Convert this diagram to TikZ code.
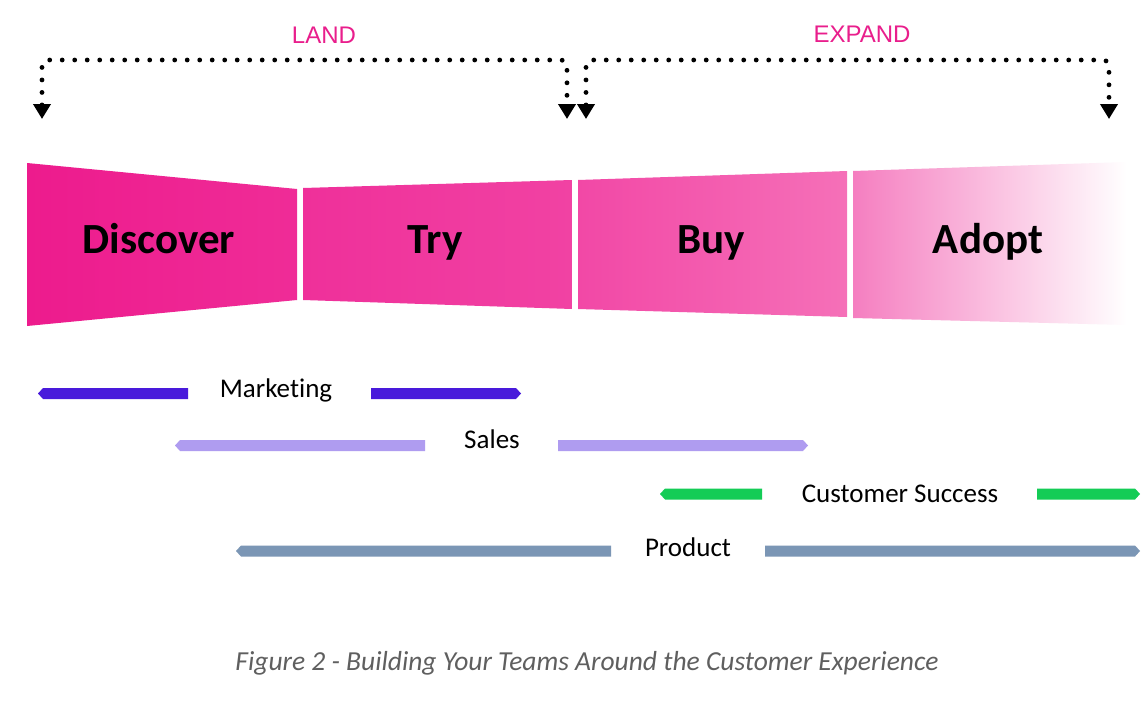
\documentclass[tikz,border=0pt]{standalone}
\usepackage{fontspec}
\setmainfont{Carlito}[Ligatures=NoCommon]
\newfontfamily\arialf{Liberation Sans}
\usetikzlibrary{arrows.meta}
\definecolor{pinkA}{RGB}{237,27,141}
\definecolor{pinkB}{RGB}{239,44,151}
\definecolor{pinkC}{RGB}{239,48,154}
\definecolor{pinkD}{RGB}{241,66,163}
\definecolor{pinkE}{RGB}{242,72,166}
\definecolor{pinkF}{RGB}{245,112,184}
\definecolor{pinkG}{RGB}{245,126,192}
\definecolor{landpink}{RGB}{233,30,140}
\definecolor{mktc}{RGB}{73,26,219}
\definecolor{salesc}{RGB}{175,156,240}
\definecolor{csc}{RGB}{20,204,86}
\definecolor{prodc}{RGB}{123,150,181}
\definecolor{capc}{RGB}{95,95,95}
\tikzset{
  dotline/.style={line width=4.8pt, line cap=round, dash pattern=on 0pt off 12.5pt,
    rounded corners=6pt, {Triangle[length=15pt,width=17pt]}-{Triangle[length=15pt,width=17pt]}},
  stagelbl/.style={anchor=base, font=\bfseries\fontsize{43}{50}\selectfont, text=black, inner sep=0pt},
  teamlbl/.style={anchor=base, font=\fontsize{27}{32}\selectfont, text=black, inner sep=0pt},
  phaselbl/.style={anchor=base, font=\arialf\fontsize{24}{28}\selectfont, text=landpink, inner sep=0pt},
  caplbl/.style={anchor=base, font=\itshape\fontsize{27.5}{32}\selectfont, text=capc, inner sep=0pt},
}
% bar segments: \lbarseg pointed at left, \rbarseg pointed at right
\newcommand{\lbarseg}[4]{\fill[#4] (#1,#3) -- (#1+5,#3-5.5) -- (#2,#3-5.5) -- (#2,#3+5.5) -- (#1+5,#3+5.5) -- cycle;}
\newcommand{\rbarseg}[4]{\fill[#4] (#1,#3-5.5) -- (#2-5,#3-5.5) -- (#2,#3) -- (#2-5,#3+5.5) -- (#1,#3+5.5) -- cycle;}
\begin{document}
\begin{tikzpicture}[x=1pt,y=-1pt]
\useasboundingbox (0,0) rectangle (1147,720);
\fill[white] (0,0) rectangle (1147,720);

% funnel stages
\shade[left color=pinkA, right color=pinkB] (27,163) -- (297,189) -- (297,300) -- (27,326) -- cycle;
\shade[left color=pinkC, right color=pinkD] (303,188) -- (572,180) -- (572,309) -- (303,300) -- cycle;
\shade[left color=pinkE, right color=pinkF] (578,180) -- (847,171) -- (847,317) -- (578,309) -- cycle;
\shade[left color=pinkG, right color=white] (853,171) -- (1127,162) -- (1127,325) -- (853,318) -- cycle;

\node[stagelbl] (discover) at (159,253) {Discover};
\node[stagelbl] (try) at (435,253) {Try};
\node[stagelbl] (buy) at (711,253) {Buy};
\node[stagelbl] (adopt) at (988,253) {Adopt};

% phase arrows
\coordinate (landL) at (42,119);
\coordinate (landR) at (567,119);
\coordinate (expL) at (586,119);
\coordinate (expR) at (1109,119);
\draw[dotline] (landL) -- ++(0,-59) -| (landR);
\draw[dotline] (expL) -- ++(0,-59) -| (expR);
\node[phaselbl] (land) at (324,43) {LAND};
\node[phaselbl] (expand) at (862,42) {EXPAND};

% teams
\lbarseg{38}{188}{393.5}{mktc}
\rbarseg{371}{521}{393.5}{mktc}
\node[teamlbl] (marketing) at (276,397) {Marketing};

\lbarseg{175}{425}{445.5}{salesc}
\rbarseg{558}{808}{445.5}{salesc}
\node[teamlbl] (sales) at (492,448) {Sales};

\lbarseg{660}{762}{494}{csc}
\rbarseg{1037}{1140}{494}{csc}
\node[teamlbl] (cs) at (900,502) {Customer Success};

\lbarseg{236}{611}{551}{prodc}
\rbarseg{765}{1140}{551}{prodc}
\node[teamlbl] (product) at (688,556) {Product};

\node[caplbl] (caption) at (587,670) {Figure 2 - Building Your Teams Around the Customer Experience};
\end{tikzpicture}
\end{document}
